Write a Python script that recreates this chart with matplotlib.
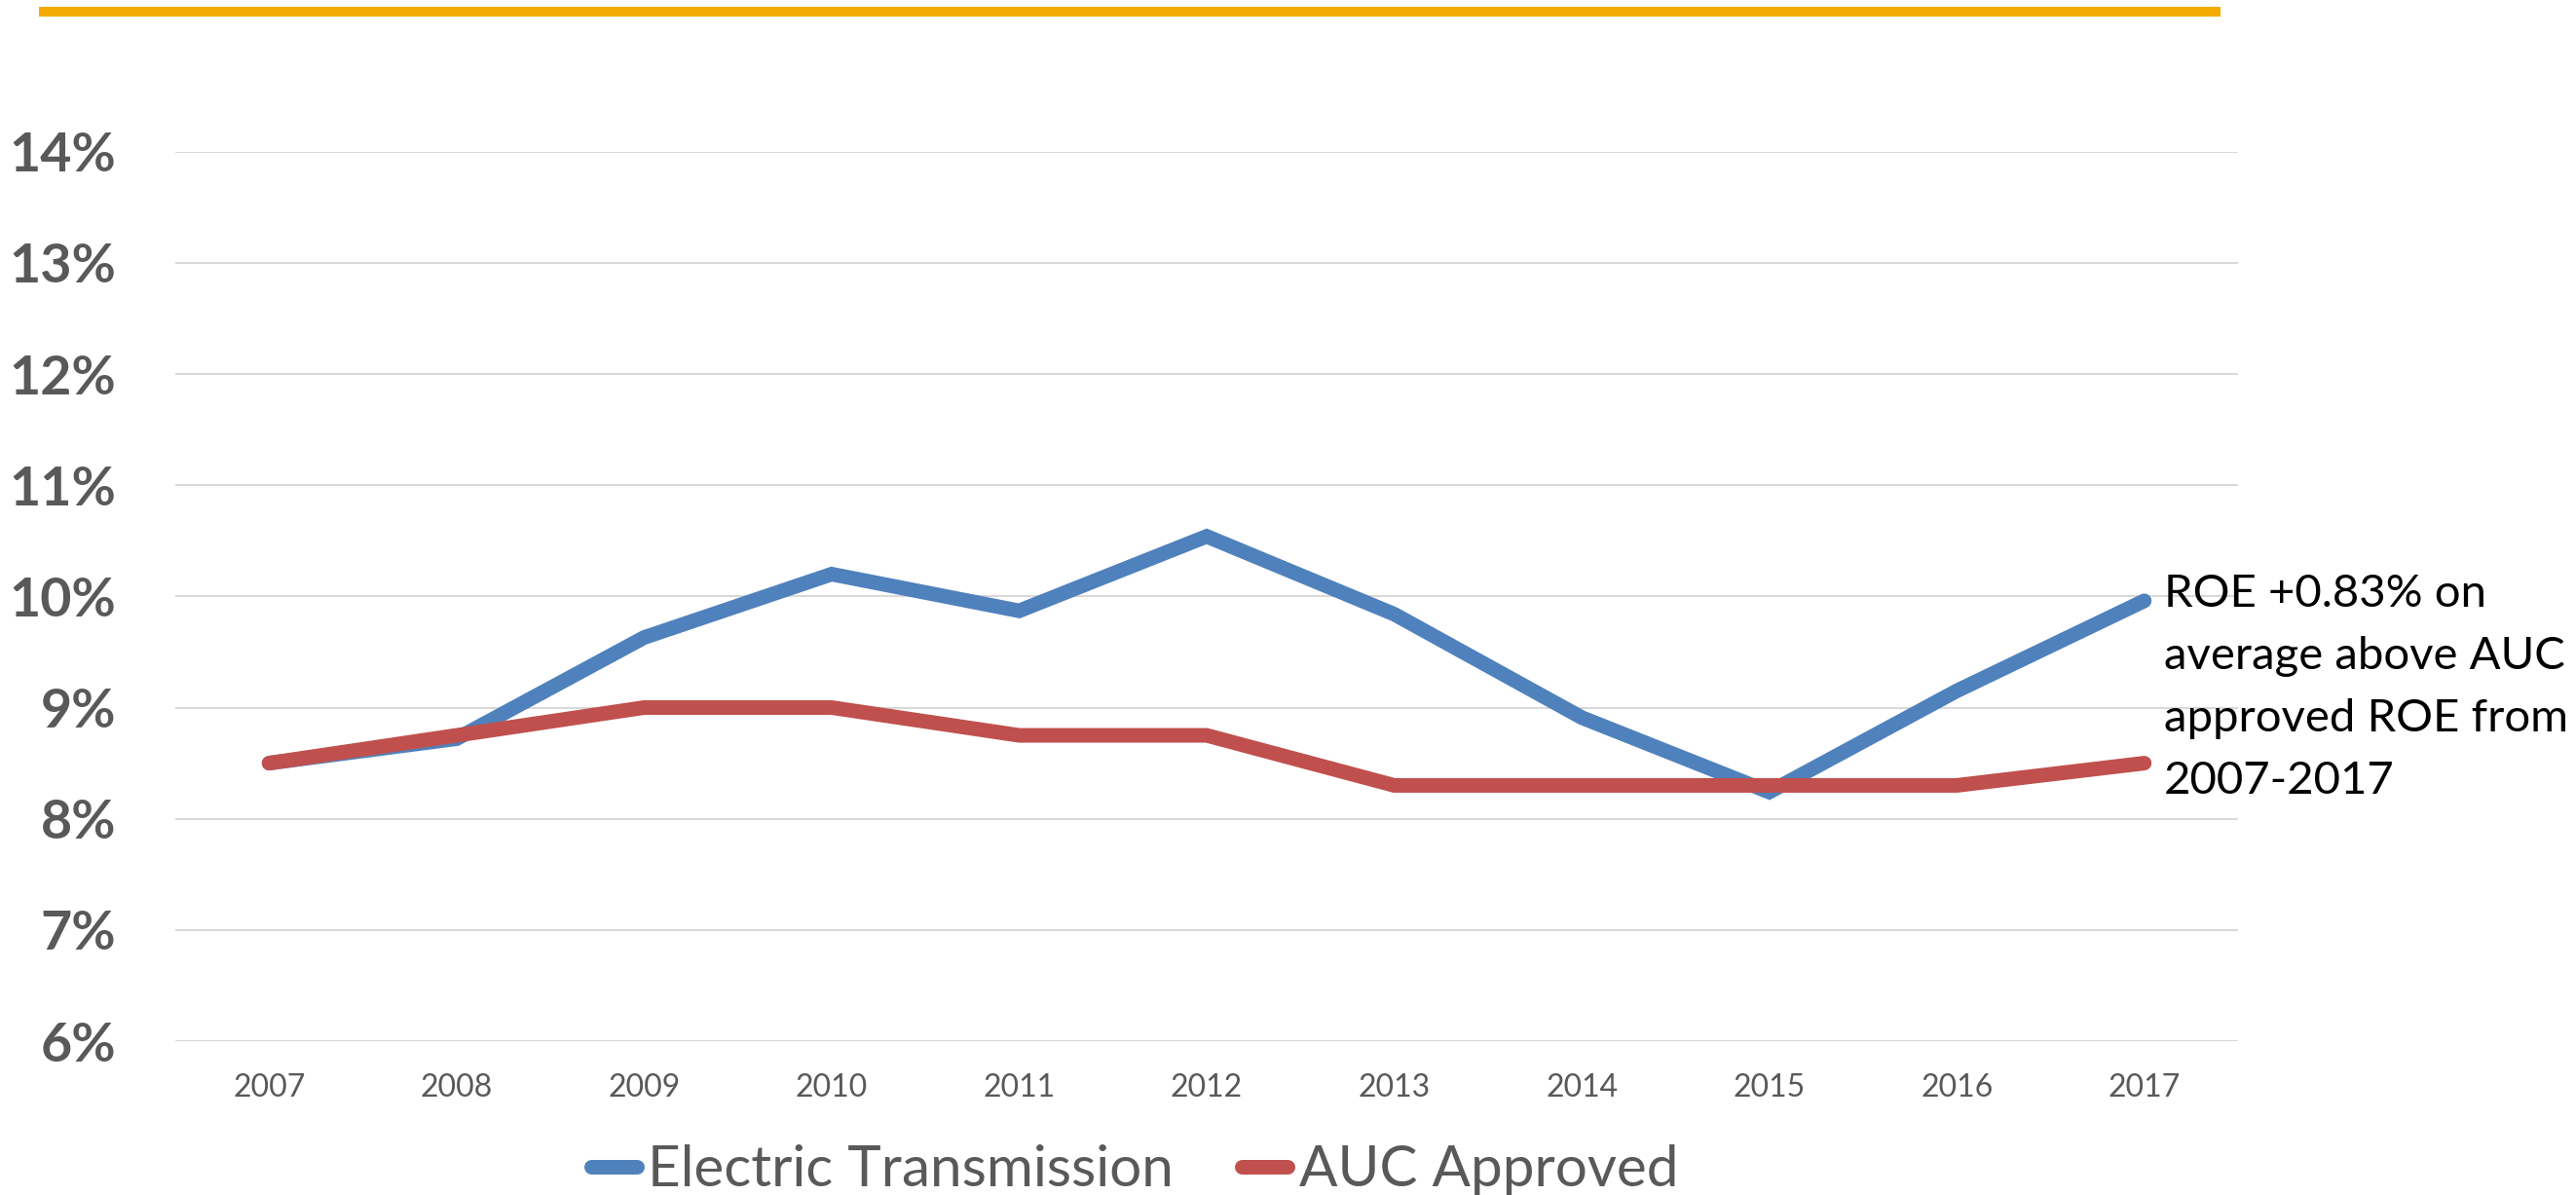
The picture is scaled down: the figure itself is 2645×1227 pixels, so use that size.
#!/usr/bin/env python3
"""
ROE comparison: electric transmission vs AUC approved, 2007-2017.
Line chart in an Excel-like style, saved to out.png.
"""

import matplotlib
matplotlib.use("Agg")
import matplotlib.pyplot as plt
from matplotlib.patches import Rectangle
from matplotlib.ticker import FuncFormatter

# --- data (% ROE)
years = ["2007", "2008", "2009", "2010", "2011", "2012",
         "2013", "2014", "2015", "2016", "2017"]
electric_transmission = [8.50, 8.72, 9.63, 10.20, 9.87, 10.54,
                         9.84, 8.91, 8.24, 9.15, 9.96]
auc_approved = [8.50, 8.75, 9.00, 9.00, 8.75, 8.75,
                8.30, 8.30, 8.30, 8.30, 8.50]
y_ticks = [6, 7, 8, 9, 10, 11, 12, 13, 14]
note_lines = ["ROE +0.83% on", "average above AUC",
              "approved ROE from", "2007-2017"]

# --- style
BLUE = "#4F81BD"
RED = "#C0504D"
ORANGE = "#F3AB00"
GRID = "#D9D9D9"
LABEL = "#595959"

plt.rcParams["font.family"] = ["Lato", "DejaVu Sans"]

W, H = 2645, 1227
fig = plt.figure(figsize=(W / 100, H / 100), dpi=100)
ax = fig.add_axes([180 / W, 1 - 1069 / H, (2298 - 180) / W, (1069 - 155.7) / H])

x = range(len(years))
lw = 15 * 72 / 100  # ~15 px wide lines
ax.plot(x, electric_transmission, color=BLUE, lw=lw, label="Electric Transmission",
        solid_capstyle="round", solid_joinstyle="miter", zorder=3)
ax.plot(x, auc_approved, color=RED, lw=lw, label="AUC Approved",
        solid_capstyle="round", solid_joinstyle="miter", zorder=4)

ax.set_xlim(-0.5, len(years) - 0.5)
ax.set_ylim(6, 14)
ax.set_xticks(list(x))
ax.set_xticklabels(years)
ax.set_yticks(y_ticks)
ax.yaxis.set_major_formatter(FuncFormatter(lambda v, _: f"{v:.0f}%"))

ax.grid(axis="y", color=GRID, lw=1.5)
ax.set_axisbelow(True)
for s in ax.spines.values():
    s.set_visible(False)
ax.tick_params(axis="both", length=0)
ax.tick_params(axis="y", labelsize=40, labelcolor=LABEL, pad=44)
ax.tick_params(axis="x", labelsize=23, labelcolor=LABEL, pad=24)
for t in ax.get_yticklabels():
    t.set_fontweight("bold")

# orange rule across the top
fig.add_artist(Rectangle((40 / W, 1 - 16.7 / H), 2240 / W, 9.7 / H,
                         transform=fig.transFigure, color=ORANGE, lw=0))

# annotation next to the 2017 points
for i, line in enumerate(note_lines):
    fig.text(2222 / W, 1 - (623 + 64 * i) / H, line, fontsize=34,
             color="black", ha="left", va="baseline")

# legend at the bottom (clipped by the figure edge as in the reference)
fig.legend(loc="center left", bbox_to_anchor=(607 / W, 1 - 1202 / H),
           bbox_transform=fig.transFigure, ncol=2, frameon=False,
           fontsize=42, labelcolor=LABEL, handlelength=0.8,
           handletextpad=0.2, columnspacing=1.2, borderpad=0,
           borderaxespad=0)

fig.savefig("out.png", dpi=100, facecolor="white")
